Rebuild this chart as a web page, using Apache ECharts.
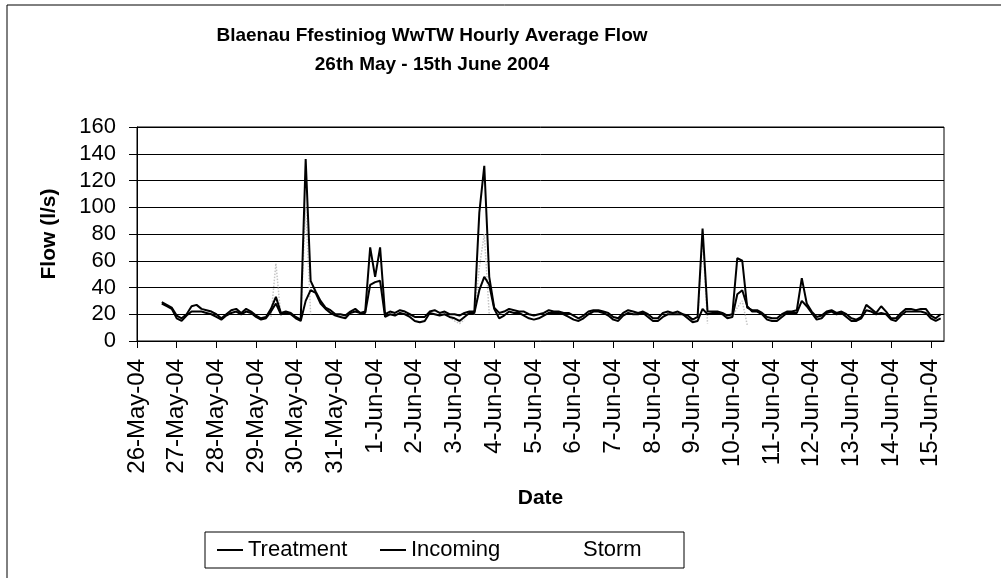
<!DOCTYPE html>
<html>
<head>
<meta charset="utf-8">
<script src="https://cdn.jsdelivr.net/npm/echarts@6/dist/echarts.min.js"></script>
<style>
  html, body { margin: 0; padding: 0; background: #fff; }
</style>
</head>
<body>
<div id="flow" style="width:1001px;height:578px;"></div>
<script>
// day labels on the x axis (one per midnight, day 0 = 26-May-04)
var dateLabels = ['26-May-04', '27-May-04', '28-May-04', '29-May-04', '30-May-04', '31-May-04',
  '1-Jun-04', '2-Jun-04', '3-Jun-04', '4-Jun-04', '5-Jun-04', '6-Jun-04', '7-Jun-04',
  '8-Jun-04', '9-Jun-04', '10-Jun-04', '11-Jun-04', '12-Jun-04', '13-Jun-04', '14-Jun-04', '15-Jun-04'];

// readings every 3 hours from 26-May 00:00 (one row per day)
var stepDays = 0.125;
var incoming = [
  null, null, null, null, null, 29, 27, 25,
  19, 17, 20, 26, 27, 24, 23, 22,
  20, 17, 20, 23, 24, 21, 24, 22,
  19, 17, 18, 24, 33, 21, 22, 21,
  18, 16, 136, 45, 37, 30, 25, 23,
  20, 20, 19, 22, 24, 21, 22, 70,
  48, 70, 20, 22, 21, 23, 22, 20,
  18, 18, 18, 22, 23, 21, 22, 20,
  20, 19, 21, 22, 22, 96, 131, 48,
  25, 21, 22, 24, 23, 22, 22, 20,
  19, 20, 21, 23, 22, 22, 21, 21,
  19, 17, 19, 22, 23, 23, 22, 21,
  18, 17, 21, 23, 22, 21, 22, 20,
  17, 17, 21, 22, 21, 22, 20, 19,
  16, 18, 84, 22, 22, 22, 21, 19,
  20, 62, 60, 25, 23, 23, 21, 18,
  17, 17, 20, 22, 22, 23, 47, 28,
  22, 18, 19, 22, 23, 21, 22, 20,
  17, 16, 18, 27, 24, 21, 26, 22,
  17, 17, 21, 24, 24, 23, 24, 24,
  19, 17, 20
];
var treatment = [
  null, null, null, null, null, 28, 26, 24,
  17, 15, 19, 22, 22, 22, 21, 20,
  18, 16, 19, 21, 22, 20, 22, 21,
  18, 16, 17, 22, 28, 20, 21, 20,
  17, 15, 30, 38, 36, 28, 24, 21,
  19, 18, 17, 21, 22, 21, 21, 42,
  44, 45, 18, 20, 19, 21, 20, 18,
  15, 14, 15, 21, 20, 19, 20, 18,
  17, 15, 18, 21, 21, 38, 48, 42,
  24, 17, 19, 22, 21, 21, 19, 17,
  16, 17, 19, 21, 21, 21, 20, 18,
  16, 15, 17, 20, 22, 22, 21, 19,
  16, 15, 19, 21, 20, 20, 21, 18,
  15, 15, 18, 20, 20, 20, 20, 17,
  14, 15, 24, 20, 21, 21, 20, 17,
  18, 35, 38, 26, 22, 22, 20, 16,
  15, 15, 18, 21, 21, 21, 30, 26,
  21, 16, 17, 21, 22, 20, 21, 18,
  15, 15, 17, 23, 22, 20, 21, 20,
  16, 15, 19, 22, 22, 22, 22, 21,
  17, 15, 17
];
// storm overflow only shows around the events (null breaks the line)
var stormDays = [3.375, 3.5, 3.625, 3.7, 4.125, 4.25, 4.375, 4.45, 7.875, 8.0, 8.125, 8.25, 8.3,
  8.5, 8.625, 8.75, 8.875, 8.95, 14.125, 14.25, 14.375, 14.45, 15.0, 15.125, 15.25, 15.375];
var stormValues = [18, 58, 18, null, 16, 100, 20, null, 18, 15, 13, 16, null,
  20, 55, 80, 20, null, 15, 78, 13, null, 18, 25, 30, 12];

function toPairs(values) {
  return values.map(function (v, i) { return [i * stepDays, v]; });
}

var chart = echarts.init(document.getElementById('flow'));
var font = 'Liberation Sans, Arial, sans-serif';
var option = {
  backgroundColor: '#fff',
  animation: false,
  title: {
    text: 'Blaenau Ffestiniog WwTW Hourly Average Flow\n26th May - 15th June 2004',
    left: 427,
    top: 16,
    textAlign: 'center',
    textStyle: { fontFamily: font, fontSize: 19, fontWeight: 'bold', color: '#000', lineHeight: 29 }
  },
  graphic: [{
    type: 'rect',
    shape: { x: 7, y: 5, width: 1100, height: 700 },
    style: { fill: 'none', stroke: '#000', lineWidth: 1 },
    silent: true
  }],
  legend: {
    left: 205,
    top: 532,
    padding: [6, 6, 6, 12],
    icon: 'rect',
    itemWidth: 26,
    itemHeight: 2,
    itemGap: 7,
    borderColor: '#000',
    borderWidth: 1,
    textStyle: { fontFamily: font, fontSize: 22, color: '#000', lineHeight: 24 },
    data: [
      { name: 'Treatment', textStyle: { width: 125 } },
      { name: 'Incoming', textStyle: { width: 134 } },
      { name: 'Storm', textStyle: { width: 95 }, itemStyle: { opacity: 0 } }
    ]
  },
  grid: { left: 137, right: 57, top: 127, bottom: 237, show: true, borderColor: '#000', borderWidth: 1 },
  xAxis: {
    type: 'value',
    min: 0,
    max: 20.333,
    interval: 1,
    name: 'Date',
    nameLocation: 'middle',
    nameGap: 147,
    nameTextStyle: { fontFamily: font, fontSize: 21, fontWeight: 'bold', color: '#000' },
    axisLine: { lineStyle: { color: '#000' } },
    axisTick: { inside: false, length: 7, lineStyle: { color: '#000' } },
    axisLabel: {
      rotate: 90,
      margin: 18,
      fontFamily: font,
      fontSize: 24,
      color: '#000',
      showMaxLabel: false,
      formatter: function (v) {
        return Number.isInteger(v) ? dateLabels[v] : '';
      }
    },
    splitLine: { show: false }
  },
  yAxis: {
    type: 'value',
    min: 0,
    max: 160,
    interval: 20,
    name: 'Flow (l/s)',
    nameLocation: 'middle',
    nameGap: 77,
    nameTextStyle: { fontFamily: font, fontSize: 21, fontWeight: 'bold', color: '#000' },
    axisLine: { show: true, lineStyle: { color: '#000' } },
    axisTick: { show: true, inside: false, length: 8, lineStyle: { color: '#000' } },
    axisLabel: { margin: 21, fontFamily: font, fontSize: 22, color: '#000' },
    splitLine: { lineStyle: { color: '#000', width: 1 } }
  },
  series: [
    {
      name: 'Treatment',
      type: 'line',
      data: toPairs(treatment),
      symbol: 'none',
      z: 3,
      lineStyle: { color: '#000', width: 2 },
      itemStyle: { color: '#000' }
    },
    {
      name: 'Incoming',
      type: 'line',
      data: toPairs(incoming),
      symbol: 'none',
      z: 4,
      lineStyle: { color: '#000', width: 2 },
      itemStyle: { color: '#000' }
    },
    {
      name: 'Storm',
      type: 'line',
      data: stormDays.map(function (d, i) { return [d, stormValues[i]]; }),
      symbol: 'none',
      z: 2,
      lineStyle: { color: '#c4c4c4', width: 1.5, type: 'dotted' },
      itemStyle: { color: '#c4c4c4' }
    }
  ]
};
chart.setOption(option);
window.addEventListener('resize', function () {
  chart.resize();
});
</script>
</body>
</html>
